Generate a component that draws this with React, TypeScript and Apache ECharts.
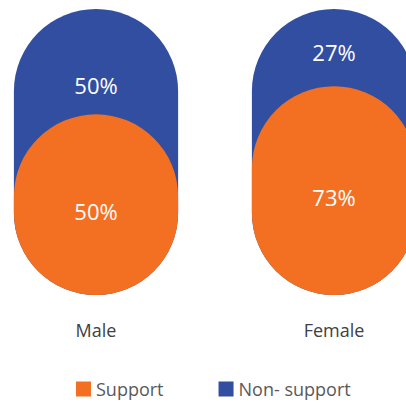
import React, { useEffect, useRef } from 'react';
import * as echarts from 'echarts';

const categories = ['Male', 'Female'];
const support = [50, 73];
const nonSupport = [50, 27];
const seriesNames = ['Support', 'Non- support'];

const ORANGE = '#f37022';
const BLUE = '#324ea0';
const FONT = "'Open Sans', sans-serif";

export default function App() {
  const ref = useRef<HTMLDivElement>(null);
  useEffect(() => {
    const chart = echarts.init(ref.current!, null, { renderer: 'svg' });
    const rows = categories.map((c, i) => [i, support[i], nonSupport[i]]);

    const makeRender = (which: 'support' | 'non') => (params: any, api: any) => {
      const i = api.value(0);
      const sup = api.value(1);
      const non = api.value(2);
      const band = api.size([1, 0])[0];
      const w = band * 0.69;
      const r = w / 2;
      const [cx, y0] = api.coord([i, 0]);
      const ySup = api.coord([i, sup])[1];
      const yTot = api.coord([i, sup + non])[1];
      const labelStyle = (t: string) => ({
        text: t,
        fill: '#ffffff',
        fontSize: 22,
        fontFamily: FONT,
        align: 'center',
        verticalAlign: 'middle',
      });
      if (which === 'non') {
        return {
          type: 'group',
          children: [
            {
              type: 'rect',
              shape: { x: cx - w / 2, y: yTot, width: w, height: y0 - yTot, r },
              style: { fill: BLUE },
            },
            {
              type: 'text',
              x: cx,
              y: (yTot + ySup) / 2 + 4,
              style: labelStyle(non + '%'),
            },
          ],
        };
      }
      const h = Math.max(y0 - ySup, w * 1.1);
      const top = y0 - h;
      return {
        type: 'group',
        children: [
          {
            type: 'rect',
            shape: { x: cx - w / 2, y: top, width: w, height: h, r },
            style: { fill: ORANGE },
          },
          {
            type: 'text',
            x: cx,
            y: (top + y0) / 2 + 6,
            style: labelStyle(sup + '%'),
          },
        ],
      };
    };

    chart.setOption({
      animation: false,
      grid: { left: 0, right: 0, top: 9, bottom: 108, containLabel: false },
      xAxis: {
        type: 'category',
        data: categories,
        axisLine: { show: false },
        axisTick: { show: false },
        splitLine: { show: false },
        axisLabel: { margin: 26, fontSize: 18, color: '#404040', fontFamily: FONT },
      },
      yAxis: { type: 'value', min: 0, max: 100, show: false, splitLine: { show: false } },
      legend: {
        data: [seriesNames[0], seriesNames[1]],
        left: 99,
        top: 380,
        padding: 0,
        itemGap: 55,
        itemWidth: 15,
        itemHeight: 15,
        icon: 'rect',
        textStyle: { fontSize: 18, color: '#595959', fontFamily: FONT },
      },
      series: [
        {
          type: 'custom',
          name: seriesNames[1],
          data: rows,
          encode: { x: 0, y: [1, 2] },
          itemStyle: { color: BLUE },
          renderItem: makeRender('non'),
        },
        {
          type: 'custom',
          name: seriesNames[0],
          data: rows,
          encode: { x: 0, y: [1, 2] },
          itemStyle: { color: ORANGE },
          renderItem: makeRender('support'),
        },
      ],
    });
    return () => chart.dispose();
  }, []);
  return (
    <div style={{ position: 'fixed', left: 0, top: 0, width: 406, height: 403, overflow: 'hidden', background: '#fff' }}>
      <div
        ref={ref}
        style={{ position: 'absolute', left: -23, top: 0, width: 476, height: 403 }}
      />
    </div>
  );
}
